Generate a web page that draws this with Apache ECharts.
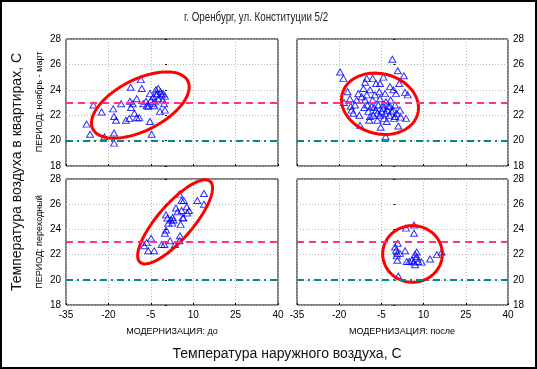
<!DOCTYPE html>
<html><head><meta charset="utf-8">
<script src="https://cdn.jsdelivr.net/npm/echarts@6/dist/echarts.min.js"></script>
<style>html,body{margin:0;padding:0;background:#fff}#c{width:537px;height:369px}</style>
</head><body><div id="c"></div>
<script>
// ---- Data ----
const title = 'г. Оренбург, ул. Конституции 5/2';
const xTitle = 'Температура наружного воздуха, С';
const yTitle = 'Температура воздуха в квартирах, С';
const colLabels = ['МОДЕРНИЗАЦИЯ: до', 'МОДЕРНИЗАЦИЯ: после'];
const rowLabels = ['ПЕРИОД: ноябрь - март', 'ПЕРИОД: переходный'];
const xTicks = [-35, -20, -5, 10, 25, 40];
const yTicks = [18, 20, 22, 24, 26, 28];
const refHigh = 23;
const refLow = 20;

// (outdoor temp, indoor temp)
const winterBefore = [
 [-27.7,21.3],[-26.5,20.5],[-25.3,22.8],[-22.4,22.25],[-21.4,20.3],[-18.3,22.5],[-18.0,21.9],[-18.0,20.6],
 [-18,19.8],[-17.3,21.6],[-15.5,22.9],[-13.8,21.6],[-12.6,21.75],[-12.4,23.1],[-12.1,24.2],[-12.0,22.6],
 [-11.4,22.9],[-10.8,22.15],[-10.0,23.3],[-10.0,21.8],[-9.1,21.8],[-8.5,24.8],[-8.2,24.1],[-7.65,22.9],
 [-6.7,23.1],[-6.45,22.75],[-5.9,22.7],[-5.3,21.5],[-5.3,23.7],[-4.9,23.2],[-4.7,20.5],[-4.3,22.9],
 [-4.1,23.45],[-3.8,22.75],[-3.2,24.0],[-2.9,23.6],[-2.7,23.7],[-2.35,23.3],[-1.75,22.3],[-1.5,23.85],
 [-1.15,23.6],[-0.8,23.2],[-0.6,23.7],[-0.3,22.9],[0.0,22.4],[0.0,23.5],[-3.5,23.05],[-2.35,24.1]
];
const winterAfter = [
 [-19.7,25.4],[-18.5,24.9],[-17.0,23.85],[-18.3,23.0],[-16.2,23.3],[-15.9,22.7],[-15.6,22.4],[-15.0,22.15],
 [-13.2,23.7],[-12.85,22.0],[-12.6,21.2],[-12.0,23.45],[-11.4,24.1],[-10.8,24.6],[-10.2,24.9],[-9.05,24.0],
 [-8.1,24.9],[-10.8,23.2],[-10.0,22.8],[-9.65,22.3],[-9.3,21.6],[-8.45,22.7],[-8.1,23.2],[-7.9,22.0],
 [-7.3,23.6],[-6.9,22.4],[-6.45,21.6],[-6.1,22.8],[-5.75,23.85],[-5.5,24.5],[-5.5,23.3],[-5.25,21.05],
 [-4.9,22.3],[-4.5,22.8],[-4.3,25.0],[-4.1,21.75],[-3.7,23.7],[-3.5,20.3],[-3.4,23.05],[-3.1,21.5],
 [-2.9,22.4],[-2.55,22.7],[-2.2,22.0],[-1.95,24.25],[-1.7,23.2],[-1.35,22.3],[-1.1,26.4],[-0.75,24.0],
 [-0.5,21.75],[-0.15,22.8],[0.2,23.7],[0.45,22.15],[0.8,25.5],[1.0,21.15],[1.35,24.5],[1.6,22.4],
 [1.85,21.85],[3.0,25.1],[3.4,23.8],[3.75,21.75],[4.35,23.6],[-11.1,22.6],[-7.6,22.6],[-4.3,22.55],
 [-6.45,22.15],[-3.7,22.15],[-1.95,22.7],[-9.05,21.9],[-5.5,22.0],[-0.75,22.4],[-0.15,21.9],[-6.9,24.5],
 [-10.2,23.6],[-13.8,23.2],[-14.4,22.8]
];
const transBefore = [
 [-7.3,22.7],[-6.45,22.95],[-5.9,22.3],[-4.9,23.3],[-3.8,22.3],[-1.15,22.8],[-0.2,22.8],[0.0,23.7],
 [0.4,23.95],[0.4,25.15],[0.85,24.9],[1.2,24.5],[1.8,23.1],[2.1,24.75],[2.6,24.5],[2.75,24.95],
 [3.55,22.8],[3.9,25.7],[4.5,25.4],[5.1,23.1],[5.1,26.8],[5.3,23.5],[5.55,24.4],[5.9,26.3],
 [5.9,25.5],[6.3,24.95],[6.7,26.3],[7.7,25.8],[7.9,25.3],[8.5,25.5],[11.45,26.3],[13.8,26.85],
 [13.8,26.0],[6.5,24.9],[3.0,24.75]
];
const transAfter = [
 [1.0,20.3],[-0.15,22.6],[0.2,22.35],[0.65,22.1],[0.8,22.9],[0.45,21.9],[0.65,21.55],[1.6,22.1],
 [3.4,22.3],[3.75,24.1],[4.0,21.45],[4.9,21.45],[5.8,21.55],[6.6,24.35],[6.6,23.7],[6.95,22.0],
 [7.2,21.7],[6.95,21.2],[7.55,21.85],[8.1,21.45],[9.3,21.4],[12.3,21.65],[14.7,22.0],[16.4,22.2],
 [6.6,21.4],[7.55,22.2]
];
// ellipses: [centerX, centerY, axis1X, axis1Y, axis2X, axis2Y] in data units
const ellWinterBefore = [-8.7, 22.8, 16.8, 1.89, -4.07, 1.80];
const ellWinterAfter = [-5.5, 22.9, 13.4, -0.80, 2.77, 2.28];
const ellTransBefore = [3.6, 24.6, 12.4, 3.21, -4.67, 0.91];
const ellTransAfter = [6.06, 22.05, 10.6, 0, 0, 2.25];

const panels = [
 {pts: winterBefore, ell: ellWinterBefore},
 {pts: winterAfter, ell: ellWinterAfter},
 {pts: transBefore, ell: ellTransBefore},
 {pts: transAfter, ell: ellTransAfter}
];

// ---- Layout ----
const gridBoxes = [
 {left:66, top:39, width:212, height:127},
 {left:297, top:39, width:211, height:127},
 {left:66, top:179, width:212, height:126},
 {left:297, top:179, width:211, height:126}
];
const FONT = 'Liberation Sans, Arial, sans-serif';
const grids = gridBoxes.map(b => Object.assign({show:true, borderColor:'#000', borderWidth:1, backgroundColor:'transparent', containLabel:false}, b));

const xAxes = gridBoxes.map((b,i) => ({
 gridIndex:i, type:'value', min:xTicks[0], max:xTicks[xTicks.length-1], interval:15,
 axisLine:{show:false}, axisTick:{show:true, inside:true, length:2, lineStyle:{color:'#000'}},
 axisLabel:{show:i>=2, color:'#000', fontSize:10, fontFamily:FONT, margin:5, showMinLabel:true, showMaxLabel:true},
 splitLine:{show:true, lineStyle:{color:'#b8b8b8', type:[1,2], width:1}}
}));
const yAxes = gridBoxes.map((b,i) => ({
 gridIndex:i, type:'value', min:yTicks[0], max:yTicks[yTicks.length-1], interval:2,
 position: (i%2===0)?'left':'right',
 axisLine:{show:false}, axisTick:{show:true, inside:true, length:2, lineStyle:{color:'#000'}},
 axisLabel:{show:true, color:'#000', fontSize:10, fontFamily:FONT, margin:5, showMinLabel:true, showMaxLabel:true},
 splitLine:{show:true, lineStyle:{color:'#b8b8b8', type:[1,2], width:1}}
}));

const series = [];
panels.forEach((p,i) => {
 series.push({
  type:'scatter', xAxisIndex:i, yAxisIndex:i, data:p.pts,
  symbol:'triangle', symbolSize:[7,6],
  itemStyle:{color:'rgba(255,255,255,0)', borderColor:'#0000ff', borderWidth:1},
  silent:true, z:3,
  markLine:{silent:true, symbol:'none', label:{show:false}, animation:false,
   data:[
    {yAxis:refHigh, lineStyle:{color:'#ff3385', type:[7,5], width:2}},
    {yAxis:refLow, lineStyle:{color:'#008b8b', type:[7,4,2,4], width:2}}
   ]}
 });
 series.push({
  type:'custom', xAxisIndex:i, yAxisIndex:i, data:[p.ell], z:4, silent:true,
  encode:{x:0, y:1},
  renderItem:function(params, api){
   const cx=api.value(0), cy=api.value(1), ux=api.value(2), uy=api.value(3), vx=api.value(4), vy=api.value(5);
   const pts=[];
   for(let k=0;k<=96;k++){
    const t=k/96*2*Math.PI;
    pts.push(api.coord([cx+ux*Math.cos(t)+vx*Math.sin(t), cy+uy*Math.cos(t)+vy*Math.sin(t)]));
   }
   return {type:'polygon', shape:{points:pts}, style:{fill:null, stroke:'#ff0000', lineWidth:3}};
  }
 });
});

const graphic = [
 {type:'rect', shape:{x:1, y:1, width:535, height:367}, style:{fill:null, stroke:'#000', lineWidth:2}, silent:true},
 {type:'text', x:256, y:17, scaleX:0.75, style:{text:title, fontSize:13, fontFamily:FONT, fill:'#222', align:'center', verticalAlign:'middle'}},
 {type:'text', x:287, y:354, style:{text:xTitle, fontSize:14, fontFamily:FONT, fill:'#111', align:'center', verticalAlign:'middle'}},
 {type:'text', x:172, y:332, style:{text:colLabels[0], fontSize:9, fontFamily:FONT, fill:'#000', align:'center', verticalAlign:'middle'}},
 {type:'text', x:402, y:332, style:{text:colLabels[1], fontSize:9, fontFamily:FONT, fill:'#000', align:'center', verticalAlign:'middle'}},
 {type:'text', x:17, y:172, rotation:Math.PI/2, style:{text:yTitle, fontSize:14, fontFamily:FONT, fill:'#111', align:'center', verticalAlign:'middle'}},
 {type:'text', x:40, y:102, rotation:Math.PI/2, style:{text:rowLabels[0], fontSize:9, fontFamily:FONT, fill:'#000', align:'center', verticalAlign:'middle'}},
 {type:'text', x:40, y:242, rotation:Math.PI/2, style:{text:rowLabels[1], fontSize:9, fontFamily:FONT, fill:'#000', align:'center', verticalAlign:'middle'}}
];

const chart = echarts.init(document.getElementById('c'), null, {renderer:'canvas'});
chart.setOption({animation:false, grid:grids, xAxis:xAxes, yAxis:yAxes, series:series, graphic:graphic});
</script></body></html>
